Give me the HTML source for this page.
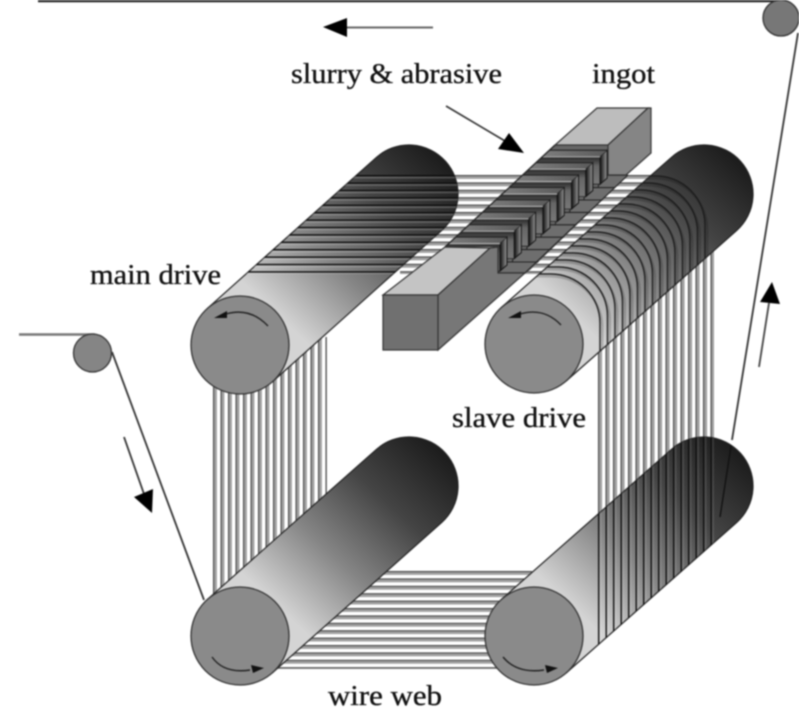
<!DOCTYPE html>
<html>
<head>
<meta charset="utf-8">
<style>
html,body{margin:0;padding:0;background:#fff;width:799px;height:711px;overflow:hidden}
svg{display:block;filter:blur(.7px)}
text{font-family:"Liberation Serif",serif;font-size:28px;fill:#111;stroke:#111;stroke-width:.35px}
</style>
</head>
<body>
<svg width="799" height="711" viewBox="0 0 799 711" xmlns="http://www.w3.org/2000/svg">
<defs>
<linearGradient id="cyl" x1="0" y1="1" x2="1" y2="0">
<stop offset=".28" stop-color="#d4d4d4"/><stop offset=".5" stop-color="#858585"/><stop offset=".72" stop-color="#444"/><stop offset=".95" stop-color="#1a1a1a"/>
</linearGradient>
<linearGradient id="sf" x1="0" y1="0" x2="0" y2="1"><stop offset="0" stop-color="#222"/><stop offset=".35" stop-color="#666"/><stop offset="1" stop-color="#777"/></linearGradient>
<linearGradient id="ss" x1="0" y1="0" x2="1" y2="0"><stop offset="0" stop-color="#111"/><stop offset="1" stop-color="#999"/></linearGradient>
<linearGradient id="st" x1="0" y1="0" x2="1" y2="0"><stop offset="0" stop-color="#808080"/><stop offset="1" stop-color="#5a5a5a"/></linearGradient>

<pattern id="hs" patternUnits="userSpaceOnUse" x="0" y="175" width="20" height="7.4">
<rect width="20" height="7.4" fill="#fff"/><rect width="20" height="1.3" fill="#444"/><rect y="1.3" width="20" height="2.6" fill="#a0a0a0"/>
</pattern>
<pattern id="hw" patternUnits="userSpaceOnUse" x="0" y="571" width="20" height="7.4">
<rect width="20" height="7.4" fill="#fff"/><rect width="20" height="1.3" fill="#444"/><rect y="1.3" width="20" height="2.6" fill="#a0a0a0"/>
</pattern>
<pattern id="hc" patternUnits="userSpaceOnUse" x="0" y="175" width="20" height="7.4">
<rect width="20" height="1.5" fill="#0c0c0c"/><rect y="1.5" width="20" height="2" fill="#fff" fill-opacity=".2"/>
</pattern>
<pattern id="vl" patternUnits="userSpaceOnUse" x="213" y="0" width="7.5" height="20">
<rect width="7.5" height="20" fill="#fff"/><rect width="1.3" height="20" fill="#444"/><rect x="1.3" width="2.6" height="20" fill="#a0a0a0"/>
</pattern>
<pattern id="vr" patternUnits="userSpaceOnUse" x="598" y="0" width="7.5" height="20">
<rect width="7.5" height="20" fill="#fff"/><rect width="1.3" height="20" fill="#444"/><rect x="1.3" width="2.8" height="20" fill="#a0a0a0"/>
</pattern>
<pattern id="vc" patternUnits="userSpaceOnUse" x="598" y="0" width="7.5" height="20">
<rect width="1.4" height="20" fill="#0c0c0c"/><rect x="1.4" width="2.2" height="20" fill="#fff" fill-opacity=".1"/>
</pattern>

<clipPath id="cTL"><path d="M207.4 308.4L376.4 157.4A49 49 0 0 1 441.6 230.6L272.6 381.6Z"/></clipPath>
<clipPath id="cTR"><path d="M501.4 307.4L671.4 157.4A49 49 0 0 1 736.6 230.6L566.6 380.6Z"/></clipPath>
<clipPath id="cBR"><path d="M501.4 599.4L671.4 449.4A49 49 0 0 1 736.6 522.6L566.6 672.6Z"/></clipPath>
<clipPath id="comb"><polygon points="445,247 555,145 610,145 608,175 628,175 530,270 525,273 498,273 498,247"/></clipPath>

<g id="arc" fill="none">
<path d="M530 276.4L551 276.4A51.4 51.4 0 0 1 602.4 325L602.4 365" stroke="#000" stroke-opacity=".18" stroke-width="2.2"/>
<path d="M530 274L551 274A49 49 0 0 1 600 323L600 365" stroke="#1c1c1c" stroke-width="1.4"/>
</g>

<g id="slab">
<polygon points="500,262 545,262 530,275 498,275" fill="#6e6e6e" stroke="#222" stroke-width="1.1"/>
<polygon points="430,243 500,243 500,271 430,271" fill="url(#sf)" stroke="#222" stroke-width=".8"/>
<polygon points="500,243 507,237 507,265 500,271" fill="url(#ss)" stroke="#111" stroke-width="1"/>
<polygon points="445,237 507,237 500,243 438,243" fill="url(#st)"/>
<line x1="445" y1="237" x2="507" y2="237" stroke="#222" stroke-width="1.2"/>
<line x1="438" y1="243.6" x2="500" y2="243.6" stroke="#b5b5b5" stroke-width="1.2"/>
</g>
</defs>

<rect width="799" height="711" fill="#fff"/>

<!-- wire webs behind -->
<rect x="400" y="175" width="255" height="99" fill="url(#hs)"/>
<rect x="213" y="337" width="114" height="262" fill="url(#vl)"/>
<rect x="598" y="250" width="116" height="280" fill="url(#vr)"/>
<rect x="270" y="571" width="262" height="98" fill="url(#hw)"/>

<!-- outer wires -->
<line x1="38" y1="1.2" x2="785" y2="1.2" stroke="#222" stroke-width="2.2"/>
<line x1="19" y1="334.5" x2="95" y2="334.5" stroke="#777" stroke-width="2.4"/>
<line x1="112" y1="352" x2="204" y2="600" stroke="#333" stroke-width="1.8"/>
<line x1="798" y1="33" x2="732" y2="440" stroke="#333" stroke-width="1.8"/>

<!-- top-left cylinder -->
<path d="M207.4 308.4L376.4 157.4A49 49 0 0 1 441.6 230.6L272.6 381.6Z" fill="url(#cyl)" stroke="#222" stroke-width="1.2"/>
<g clip-path="url(#cTL)"><rect x="200" y="175" width="265" height="99" fill="url(#hc)"/></g>
<circle cx="240" cy="345" r="49" fill="#8a8a8a" stroke="#333" stroke-width="1.3"/>

<!-- top-right cylinder -->
<path d="M501.4 307.4L671.4 157.4A49 49 0 0 1 736.6 230.6L566.6 380.6Z" fill="url(#cyl)" stroke="#222" stroke-width="1.2"/>
<g clip-path="url(#cTR)">
<use href="#arc"/>
<use href="#arc" transform="translate(7.5,-7)"/>
<use href="#arc" transform="translate(15,-14)"/>
<use href="#arc" transform="translate(22.5,-21)"/>
<use href="#arc" transform="translate(30,-28)"/>
<use href="#arc" transform="translate(37.5,-35)"/>
<use href="#arc" transform="translate(45,-42)"/>
<use href="#arc" transform="translate(52.5,-49)"/>
<use href="#arc" transform="translate(60,-56)"/>
<use href="#arc" transform="translate(67.5,-63)"/>
<use href="#arc" transform="translate(75,-70)"/>
<use href="#arc" transform="translate(82.5,-77)"/>
<use href="#arc" transform="translate(90,-84)"/>
<use href="#arc" transform="translate(97.5,-91)"/>
<use href="#arc" transform="translate(105,-98)"/>
</g>
<circle cx="534" cy="344" r="49" fill="#8a8a8a" stroke="#333" stroke-width="1.3"/>

<!-- bottom-left cylinder -->
<path d="M207.4 599.4L376.4 449.4A49 49 0 0 1 441.6 522.6L272.6 672.6Z" fill="url(#cyl)" stroke="#222" stroke-width="1.2"/>
<circle cx="240" cy="636" r="49" fill="#8a8a8a" stroke="#333" stroke-width="1.3"/>

<!-- bottom-right cylinder -->
<path d="M501.4 599.4L671.4 449.4A49 49 0 0 1 736.6 522.6L566.6 672.6Z" fill="url(#cyl)" stroke="#222" stroke-width="1.2"/>
<g clip-path="url(#cBR)">
<rect x="598" y="420" width="116" height="260" fill="url(#vc)"/>
<line x1="732" y1="440" x2="720" y2="517" stroke="#111" stroke-width="1.4"/>
</g>
<circle cx="534" cy="636" r="49" fill="#8a8a8a" stroke="#333" stroke-width="1.3"/>

<!-- pulleys -->
<circle cx="781" cy="18" r="18" fill="#777" stroke="#333" stroke-width="1.3"/>
<circle cx="92.5" cy="353" r="19" fill="#858585" stroke="#333" stroke-width="1.3"/>

<!-- ingot -->
<polygon points="445,247 555,145 610,145 628,175 530,270 525,273 498,273 498,247" fill="#666"/>
<g clip-path="url(#comb)">
<use href="#slab" transform="translate(100.1,-86.8)"/>
<use href="#slab" transform="translate(85.8,-74.4)"/>
<use href="#slab" transform="translate(71.5,-62)"/>
<use href="#slab" transform="translate(57.2,-49.6)"/>
<use href="#slab" transform="translate(42.9,-37.2)"/>
<use href="#slab" transform="translate(28.6,-24.8)"/>
<use href="#slab" transform="translate(14.3,-12.4)"/>
<use href="#slab"/>
</g>
<line x1="445" y1="247" x2="555" y2="145" stroke="#222" stroke-width="1.3"/>
<line x1="498" y1="273" x2="525" y2="273" stroke="#222" stroke-width="1.3"/>
<line x1="525" y1="273" x2="628" y2="175" stroke="#222" stroke-width="1.2"/>
<!-- back block -->
<polygon points="555,145 608,145 648,108 597,108" fill="#bdbdbd" stroke="#333" stroke-width="1.2"/>
<polygon points="608,145 648,108 651,108 651,153 626,175 608,175" fill="#858585" stroke="#333" stroke-width="1.2"/>
<!-- front block -->
<polygon points="383,295 438,295 490,248 445,247" fill="#c4c4c4" stroke="#333" stroke-width="1.2"/>
<polygon points="438,295 490,248 498,247 498,273 525,273 438,350" fill="#777" stroke="#333" stroke-width="1.2"/>
<rect x="383" y="295" width="55" height="55" fill="#707070" stroke="#333" stroke-width="1.2"/>

<!-- rotation arrows -->
<g fill="none" stroke="#222" stroke-width="1.4">
<path d="M268 326Q250 307 226 314"/>
<path d="M561 325Q544 307 520 314"/>
<path d="M212 657Q224 674 250 670"/>
<path d="M503 657Q517 674 544 670"/>
</g>
<g fill="#111">
<polygon points="214,318 227,311 227,318"/>
<polygon points="508,318 521,311 521,318"/>
<polygon points="264,668 251,665 253,673"/>
<polygon points="558,668 545,665 547,673"/>
</g>

<!-- direction arrows -->
<line x1="345" y1="27.5" x2="433" y2="27.5" stroke="#666" stroke-width="2"/>
<polygon points="323,27 347,18 347,37" fill="#000"/>
<line x1="446" y1="106" x2="505" y2="141" stroke="#333" stroke-width="1.6"/>
<polygon points="524,153 509,133 498,149" fill="#000"/>
<line x1="124" y1="437" x2="144" y2="494" stroke="#333" stroke-width="1.8"/>
<polygon points="152,513 134,497 153,489" fill="#000"/>
<line x1="759" y1="367" x2="769" y2="303" stroke="#444" stroke-width="1.8"/>
<polygon points="772,282 760,302 780,304" fill="#000"/>

<!-- labels -->
<text x="291" y="83" textLength="211" lengthAdjust="spacingAndGlyphs">slurry &amp; abrasive</text>
<text x="592" y="83" textLength="63" lengthAdjust="spacingAndGlyphs">ingot</text>
<text x="90" y="284" textLength="131" lengthAdjust="spacingAndGlyphs">main drive</text>
<text x="452" y="427" textLength="134" lengthAdjust="spacingAndGlyphs">slave drive</text>
<text x="328" y="705" textLength="114" lengthAdjust="spacingAndGlyphs">wire web</text>
</svg>
</body>
</html>
